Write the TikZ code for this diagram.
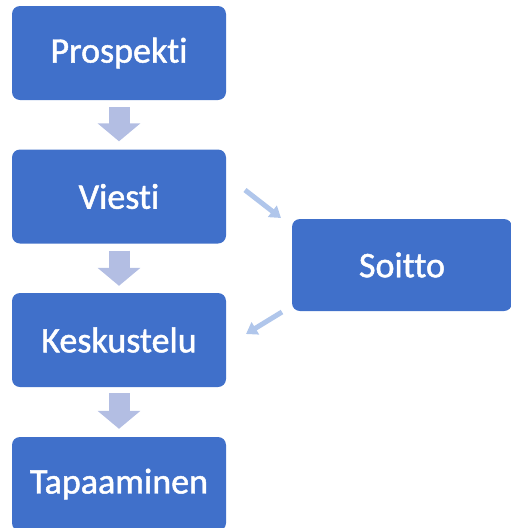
\documentclass[tikz,border=0pt]{standalone}
\usepackage{fontspec}
\setmainfont[Ligatures=NoCommon, FakeBold=1.3]{Carlito}
\usetikzlibrary{arrows.meta}
\definecolor{boxblue}{HTML}{4070CA}
\definecolor{arrowgray}{HTML}{B3BEE3}
\definecolor{arrowlight}{HTML}{B0C6EB}
\tikzset{
  stepbox/.style={draw=none, fill=boxblue, rounded corners=8pt, text=white,
    minimum width=214pt, minimum height=94pt, inner sep=0pt,
    font=\fontsize{36}{40}\selectfont},
  bigarrow/.style={draw=arrowgray, line width=21pt,
    -{Triangle[length=18pt,width=42pt]}},
  thinarrow/.style={draw=arrowlight, line width=5pt,
    -{Triangle[length=11pt,width=14pt]}}
}
\begin{document}
\begin{tikzpicture}[x=1pt,y=-1pt]
\useasboundingbox (0,0) rectangle (511,528);
\node[stepbox] (p) at (119,53) {Prospekti};
\node[stepbox] (v) at (119,196.5) {Viesti};
\node[stepbox] (k) at (119,340) {Keskustelu};
\node[stepbox] (t) at (119,484) {Tapaaminen};
\node[stepbox, minimum width=220pt, minimum height=92pt] (s) at (402,265) {Soitto};
\draw[bigarrow, shorten <=7pt, shorten >=8pt] (p.south) -- (v.north);
\draw[bigarrow, shorten <=7pt, shorten >=7pt] (v.south) -- (k.north);
\draw[bigarrow, shorten <=6pt, shorten >=8pt] (k.south) -- (t.north);
\coordinate (a1) at (245,190);
\coordinate (a2) at (281,218);
\coordinate (b1) at (282,312);
\coordinate (b2) at (246,334);
\draw[thinarrow] (a1) -- (a2);
\draw[thinarrow] (b1) -- (b2);
\end{tikzpicture}
\end{document}
